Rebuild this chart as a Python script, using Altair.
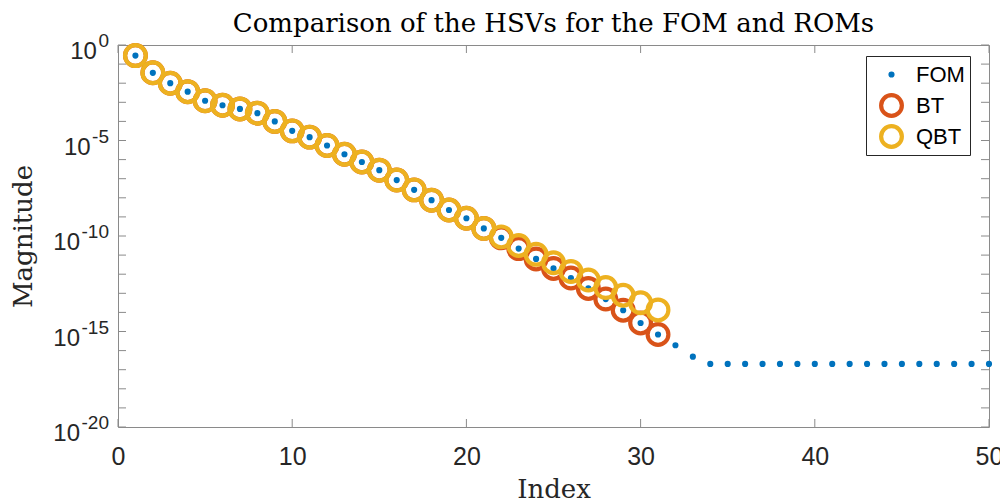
import altair as alt
import pandas as pd

# ---------------- data ----------------
fom_index = list(range(1, 51))
fom_values = [
    2.8e-1, 3.5e-2, 1.0e-2, 3.6e-3, 1.2e-3, 7.0e-4, 4.5e-4, 2.7e-4, 1.0e-4, 3.2e-5,
    1.5e-5, 5.5e-6, 1.9e-6, 7.5e-7, 2.8e-7, 8.5e-8, 2.6e-8, 7.5e-9, 2.3e-9, 8.5e-10,
    2.5e-10, 8.0e-11, 2.2e-11, 6.3e-12, 2.0e-12, 6.3e-13, 1.8e-13, 5.0e-14, 1.3e-14, 2.8e-15,
    7.0e-16, 1.9e-16, 4.8e-17, 2.0e-17, 2.0e-17, 2.0e-17, 2.0e-17, 2.0e-17, 2.0e-17, 2.0e-17,
    2.0e-17, 2.0e-17, 2.0e-17, 2.0e-17, 2.0e-17, 2.0e-17, 2.0e-17, 2.0e-17, 2.0e-17, 2.0e-17,
]
rom_index = list(range(1, 32))
bt_values = [
    2.8e-1, 3.5e-2, 1.0e-2, 3.6e-3, 1.2e-3, 7.0e-4, 4.5e-4, 2.7e-4, 1.0e-4, 3.2e-5,
    1.5e-5, 5.5e-6, 1.9e-6, 7.5e-7, 2.8e-7, 8.5e-8, 2.6e-8, 7.5e-9, 2.3e-9, 8.5e-10,
    2.5e-10, 8.0e-11, 2.2e-11, 6.3e-12, 2.0e-12, 6.3e-13, 1.8e-13, 5.0e-14, 1.3e-14, 2.8e-15,
    7.0e-16,
]
qbt_values = [
    2.8e-1, 3.5e-2, 1.0e-2, 3.6e-3, 1.2e-3, 7.0e-4, 4.5e-4, 2.7e-4, 1.0e-4, 3.2e-5,
    1.5e-5, 5.5e-6, 1.9e-6, 7.5e-7, 2.8e-7, 8.5e-8, 2.6e-8, 7.5e-9, 2.3e-9, 8.5e-10,
    2.5e-10, 9.0e-11, 3.2e-11, 1.1e-11, 4.0e-12, 1.4e-12, 5.0e-13, 2.0e-13, 7.9e-14, 3.2e-14,
    1.35e-14,
]
series_names = ["FOM", "BT", "QBT"]
series_colors = ["#0072BD", "#D95319", "#EDB120"]

chart_title = "Comparison of the HSVs for the FOM and ROMs"
x_tick_values = [0, 10, 20, 30, 40, 50]
y_label_values = [1e0, 1e-5, 1e-10, 1e-15, 1e-20]
y_label_bases = ["10", "10", "10", "10", "10"]
y_label_exps = ["0", "-5", "-10", "-15", "-20"]
y_decade_ticks = [1e0, 1e-1, 1e-2, 1e-3, 1e-4, 1e-5, 1e-6, 1e-7, 1e-8, 1e-9, 1e-10,
                  1e-11, 1e-12, 1e-13, 1e-14, 1e-15, 1e-16, 1e-17, 1e-18, 1e-19, 1e-20]

rows = []
for i, v in zip(fom_index, fom_values):
    rows.append({"Index": i, "Magnitude": v, "series": "FOM"})
for i, v in zip(rom_index, bt_values):
    rows.append({"Index": i, "Magnitude": v, "series": "BT"})
for i, v in zip(rom_index, qbt_values):
    rows.append({"Index": i, "Magnitude": v, "series": "QBT"})
df = pd.DataFrame(rows)

# ---------------- layout / style ----------------
W, H = 871, 382
TICK = 8
FRAME = "#8a8a8a"
TXT = "#262626"
SANS = "Liberation Sans"
SERIF = "DejaVu Serif"
BASE_FS = 24
EXP_FS = 19
EXP_DX = -9

x_scale = alt.Scale(domain=[0, 50], nice=False, zero=False)
y_scale = alt.Scale(type="log", domain=[1e-20, 1], nice=False)

leg = alt.Legend(
    title=None, orient="none", legendX=748, legendY=11,
    fillColor="white", strokeColor=TXT,
    padding=5, symbolOffset=8, labelOffset=12, rowPadding=4, gridAlign="all",
    clipHeight=27,
    labelFont=SANS, labelFontSize=22, labelColor="black",
)

points = alt.Chart(df).mark_point(opacity=1, clip=False).encode(
    x=alt.X("Index:Q", scale=x_scale,
            axis=alt.Axis(values=x_tick_values, title="Index", ticks=False, tickSize=0,
                          domain=False, grid=False, labelFont=SANS, labelFontSize=25,
                          labelColor=TXT, labelPadding=17, labelFlush=False,
                          titleFont=SERIF, titleFontSize=26, titleFontWeight="normal",
                          titleColor=TXT, titleBaseline="alphabetic", titleY=70)),
    y=alt.Y("Magnitude:Q", scale=y_scale,
            axis=alt.Axis(values=y_label_values, labels=False, title="Magnitude",
                          ticks=False, tickSize=0, domain=False, grid=False,
                          titleFont=SERIF, titleFontSize=26, titleFontWeight="normal",
                          titleColor=TXT, titleBaseline="alphabetic", titleX=-87,
                          titleY=H / 2, titleAngle=270)),
    fill=alt.Fill("series:N", scale=alt.Scale(domain=series_names,
                  range=[series_colors[0], "transparent", "transparent"]), legend=leg),
    stroke=alt.Stroke("series:N", scale=alt.Scale(domain=series_names, range=series_colors),
                      legend=leg),
    size=alt.Size("series:N", scale=alt.Scale(type="ordinal", domain=series_names,
                  range=[38, 430, 430]), legend=leg),
    strokeWidth=alt.StrokeWidth("series:N", scale=alt.Scale(type="ordinal", domain=series_names,
                                range=[0, 4.2, 4.2]), legend=leg),
)

ydf = pd.DataFrame({"v": y_decade_ticks})
xdf = pd.DataFrame({"v": x_tick_values})

y_ticks_left = alt.Chart(ydf).mark_rule(color=FRAME, strokeWidth=1).encode(
    y=alt.Y("v:Q", scale=y_scale), x=alt.value(0), x2=alt.value(TICK))
y_ticks_right = alt.Chart(ydf).mark_rule(color=FRAME, strokeWidth=1).encode(
    y=alt.Y("v:Q", scale=y_scale), x=alt.value(W - TICK), x2=alt.value(W))
x_ticks_bottom = alt.Chart(xdf).mark_rule(color=FRAME, strokeWidth=1).encode(
    x=alt.X("v:Q", scale=x_scale), y=alt.value(H), y2=alt.value(H - TICK))
x_ticks_top = alt.Chart(xdf).mark_rule(color=FRAME, strokeWidth=1).encode(
    x=alt.X("v:Q", scale=x_scale), y=alt.value(0), y2=alt.value(TICK))

# y tick labels as "10" with a raised exponent
exp_df = pd.DataFrame({"v": y_label_values, "exp": y_label_exps})
exp_layer = alt.Chart(exp_df).mark_text(
    align="right", baseline="alphabetic", font=SANS, fontSize=EXP_FS, color=TXT,
    dx=EXP_DX, dy=2,
).encode(y=alt.Y("v:Q", scale=y_scale), x=alt.value(0), text="exp:N")


def exp_width(s):
    return sum((0.333 if c == "-" else 0.556) * EXP_FS for c in s)


base_layers = []
for v, b, e in zip(y_label_values, y_label_bases, y_label_exps):
    bdf = pd.DataFrame({"v": [v], "base": [b]})
    base_layers.append(
        alt.Chart(bdf).mark_text(
            align="right", baseline="alphabetic", font=SANS, fontSize=BASE_FS, color=TXT,
            dx=EXP_DX - exp_width(e) - 1.5, dy=14,
        ).encode(y=alt.Y("v:Q", scale=y_scale), x=alt.value(0), text="base:N")
    )

# chart title, drawn centred above the plot frame
title_df = pd.DataFrame({"t": [chart_title]})
title_layer = alt.Chart(title_df).mark_text(
    align="center", baseline="alphabetic", font=SERIF, fontSize=26, color="black",
).encode(x=alt.value(W / 2), y=alt.value(-13), text="t:N")

chart = alt.layer(
    y_ticks_left, y_ticks_right, x_ticks_bottom, x_ticks_top, exp_layer, *base_layers,
    title_layer, points
).properties(
    width=W, height=H,
    autosize=alt.AutoSizeParams(type="none"),
    padding={"left": 110, "top": 37, "right": 11, "bottom": 77},
).configure_view(
    stroke=FRAME, strokeWidth=1
)

chart.save("out.html", embed_options={"renderer": "svg", "actions": False})
